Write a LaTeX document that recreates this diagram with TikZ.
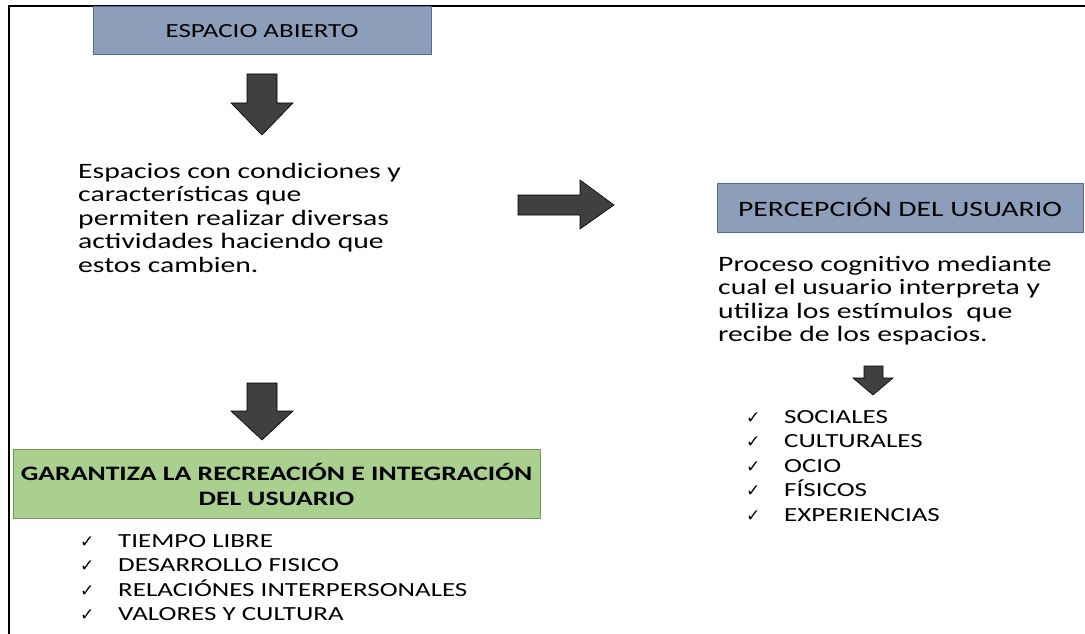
\documentclass[tikz,border=0pt]{standalone}
\usepackage{fontspec}
\setmainfont{Carlito}[FakeStretch=1.35]
\newfontfamily\simbolo{DejaVu Sans}
\usetikzlibrary{positioning}
\definecolor{azulcaja}{RGB}{141,158,186}
\definecolor{azulborde}{RGB}{84,108,146}
\definecolor{verdecaja}{RGB}{169,208,142}
\definecolor{verdeborde}{RGB}{112,158,80}
\definecolor{gris}{RGB}{64,64,64}
\def\chk{\makebox[38pt][l]{\simbolo\fontsize{17}{17}\selectfont ✓}}
\def\flechauno{(247,74) -- (277,74) -- (277,103) -- (293,103) -- (262,135) -- (231,103) -- (247,103) -- cycle}
\def\flechados{(247,383) -- (277,383) -- (277,411) -- (293,411) -- (262,440) -- (231,411) -- (247,411) -- cycle}
\def\flechader{(518,195) -- (580,195) -- (580,180) -- (614,205) -- (580,229) -- (580,215) -- (518,215) -- cycle}
\def\flechachica{(864,366) -- (883,366) -- (883,378) -- (893,378) -- (873,395) -- (853,378) -- (864,378) -- cycle}

\begin{document}
\begin{tikzpicture}[x=1pt,y=-1pt,every node/.style={font=\fontsize{22}{23.5}\selectfont,inner sep=0pt},
  caja/.style={draw=azulborde,fill=azulcaja,line width=1pt},
  texto/.style={align=left,anchor=base west},
  lista/.style={align=left,anchor=base west,font=\fontsize{20}{24.5}\selectfont}]
\useasboundingbox (0,0) rectangle (1085,634);
\fill[white] (0,0) rectangle (1085,634);
    \draw[line width=2pt] (9,634) |- (1085,6);
% cajas
    \node[caja,minimum width=338pt,minimum height=48pt,font=\fontsize{20}{23.5}\selectfont] (espacio) at (262,31) {ESPACIO ABIERTO};
    \node[caja,minimum width=366pt,minimum height=49pt] (percepcion) at (900,207.5) {PERCEPCIÓN DEL USUARIO};
    \node[draw=verdeborde,fill=verdecaja,line width=1pt,minimum width=527pt,minimum height=69pt,align=center,font=\fontsize{20.5}{25}\selectfont\bfseries] (garantiza) at (276.5,484) {GARANTIZA LA RECREACIÓN E INTEGRACIÓN\\DEL USUARIO};
% flechas
    \filldraw[fill=gris,draw=black,line width=0.6pt] \flechauno;
    \filldraw[fill=gris,draw=black,line width=0.6pt] \flechados;
    \filldraw[fill=gris,draw=black,line width=0.6pt] \flechader;
    \filldraw[fill=gris,draw=black,line width=0.6pt] \flechachica;
% textos (base = ultima linea)
    \node[texto] (espacios) at (78,272) {Espacios con condiciones y\\características que\\permiten realizar diversas\\actividades haciendo que\\estos cambien.};
    \node[texto] (proceso) at (718,341.5) {Proceso cognitivo mediante\\cual el usuario interpreta y\\utiliza los estímulos\ \ que\\recibe de los espacios.};
    \node[lista] (factores) at (746,521) {\chk SOCIALES\\\chk CULTURALES\\\chk OCIO\\\chk FÍSICOS\\\chk EXPERIENCIAS};
    \node[lista] (beneficios) at (80,620.5) {\chk TIEMPO LIBRE\\\chk DESARROLLO FISICO\\\chk RELACIÓNES INTERPERSONALES\\\chk VALORES Y CULTURA};
\end{tikzpicture}
\end{document}
